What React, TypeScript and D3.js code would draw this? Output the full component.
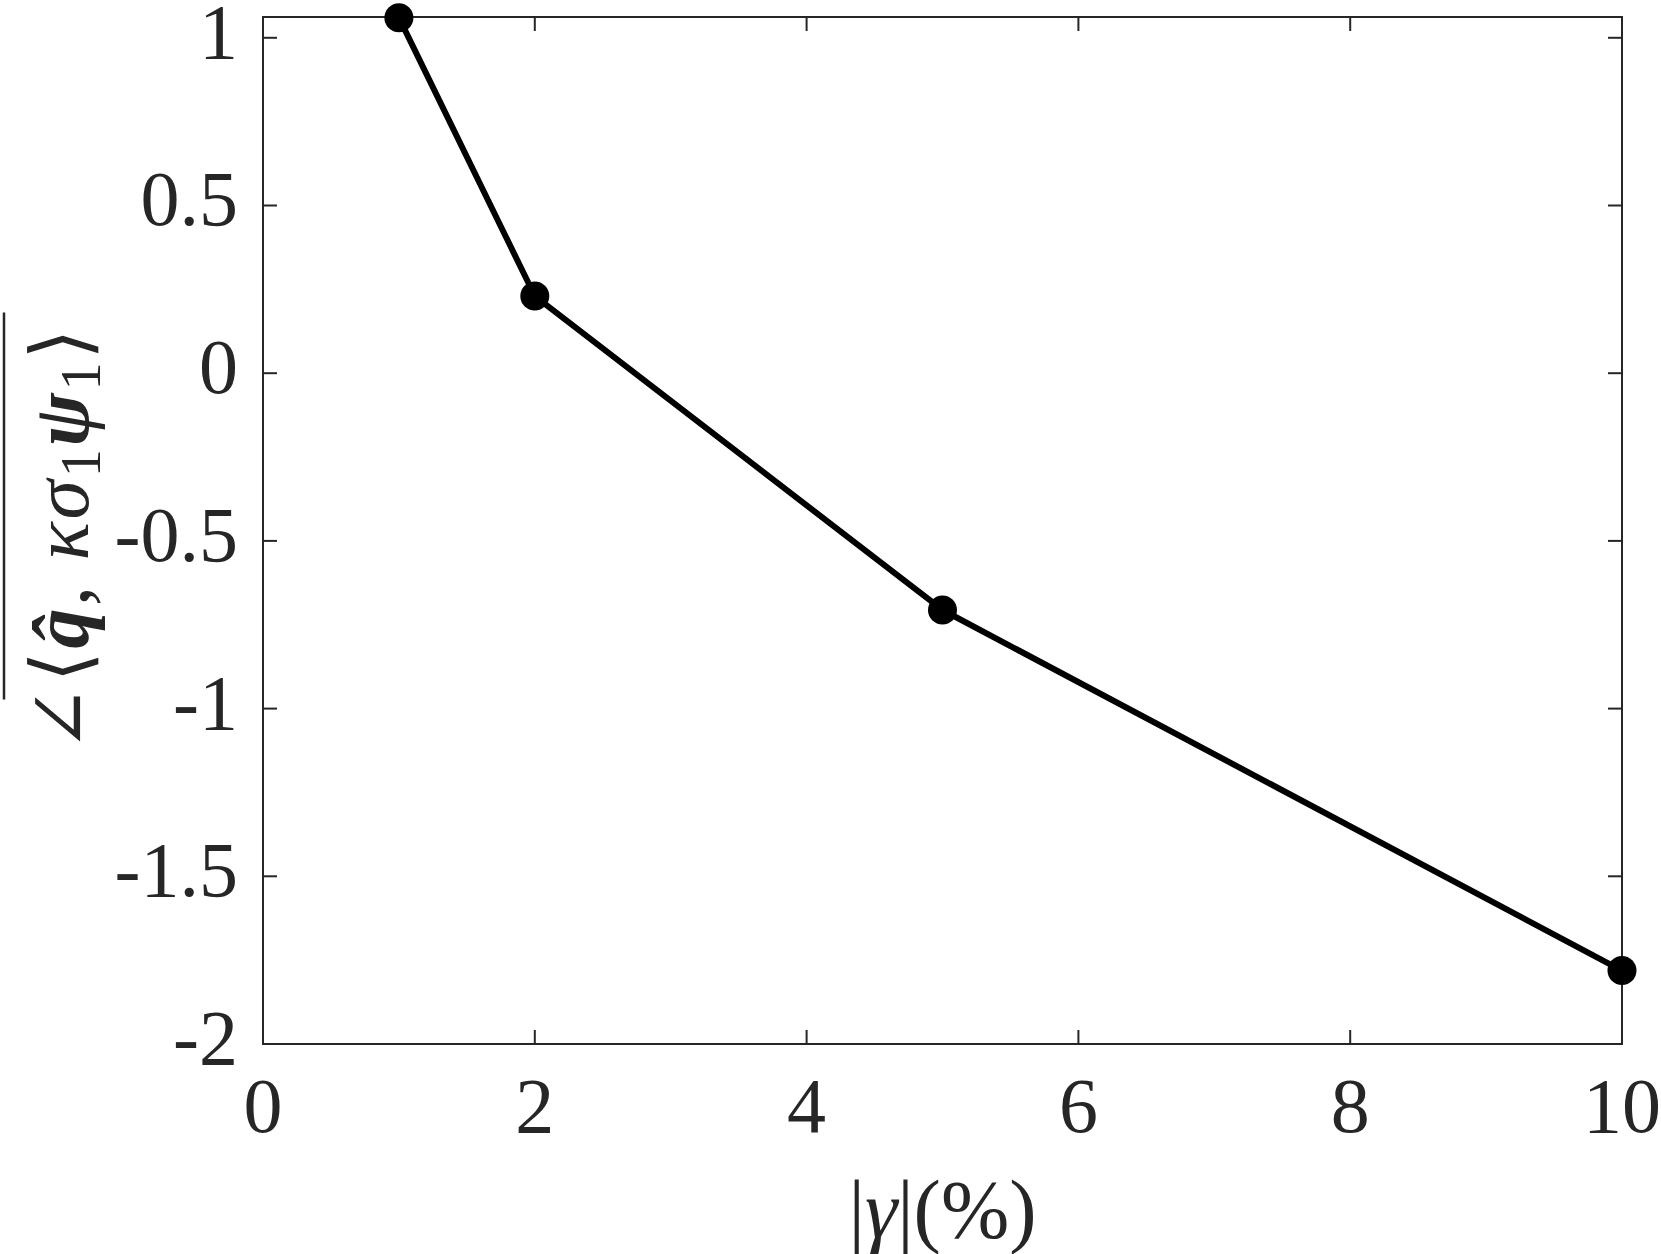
import React from 'react';
import * as d3 from 'd3';

const gammaPct = [1, 2, 5, 10];
const angleVals = [1.06, 0.23, -0.706, -1.781];
const xTicks = [0, 2, 4, 6, 8, 10];
const yTicks = [-2, -1.5, -1, -0.5, 0, 0.5, 1];
const yTickLabels = ['-2', '-1.5', '-1', '-0.5', '0', '0.5', '1'];
const xLabels = ['0', '2', '4', '6', '8', '10'];
const yMax = 1.062;

const W = 1661;
const H = 1254;
const left = 263, right = 1622, top = 17, bottom = 1044;
const axisColor = '#262626';
const font = "'Liberation Serif', 'DejaVu Serif', serif";

export default function App() {
  const x = d3.scaleLinear().domain([0, 10]).range([left, right]);
  const y = d3.scaleLinear().domain([-2, yMax]).range([bottom, top]);
  const pts = gammaPct.map((g, i) => [g, angleVals[i]] as [number, number]);
  const line = d3.line<[number, number]>().x(d => x(d[0])).y(d => y(d[1]));
  const tickLen = 14;

  return (
    <svg width={W} height={H} style={{ position: 'absolute', left: 0, top: 0, background: '#fff' }}>
      <rect x={left} y={top} width={right - left} height={bottom - top} fill="none" stroke={axisColor} strokeWidth={2} />
      {xTicks.map((t, i) => (
        <g key={'x' + t}>
          <line x1={x(t)} x2={x(t)} y1={bottom} y2={bottom - tickLen} stroke={axisColor} strokeWidth={2} />
          <line x1={x(t)} x2={x(t)} y1={top} y2={top + tickLen} stroke={axisColor} strokeWidth={2} />
          <text x={x(t)} y={1132} textAnchor="middle" fontFamily={font} fontSize={78} fill={axisColor}>{xLabels[i]}</text>
        </g>
      ))}
      {yTicks.map((t, i) => (
        <g key={'y' + t}>
          <line x1={left} x2={left + tickLen} y1={y(t)} y2={y(t)} stroke={axisColor} strokeWidth={2} />
          <line x1={right} x2={right - tickLen} y1={y(t)} y2={y(t)} stroke={axisColor} strokeWidth={2} />
          <text x={238} y={y(t) + 20} textAnchor="end" fontFamily={font} fontSize={78} fill={axisColor}>{yTickLabels[i]}</text>
        </g>
      ))}
      <path d={line(pts) || ''} fill="none" stroke="#000" strokeWidth={6} strokeLinejoin="round" />
      {pts.map((p, i) => (
        <circle key={i} cx={x(p[0])} cy={y(p[1])} r={14.5} fill="#000" />
      ))}
      <text x={(left + right) / 2} y={1237} textAnchor="middle" fontFamily={font} fontSize={82} fill={axisColor}>
        |<tspan fontStyle="italic">γ</tspan>|(%)
      </text>
      <g transform={`translate(88, ${(top + bottom) / 2}) rotate(-90)`}>
        <text x={-155} y={0} textAnchor="end" fontFamily={font} fontSize={80} fill={axisColor}>∠</text>
        <text x={-152} y={0} textAnchor="start" textLength={354} lengthAdjust="spacing" fontFamily={font} fontSize={80} fill={axisColor}>
          ⟨<tspan fontWeight="bold" fontStyle="italic">q̂</tspan>, <tspan fontStyle="italic">κσ</tspan>
          <tspan fontSize={56} dy={12}>1</tspan>
          <tspan fontWeight="bold" fontStyle="italic" dy={-12}>ψ</tspan>
          <tspan fontSize={56} dy={12}>1</tspan>
          <tspan dy={-12}>⟩</tspan>
        </text>
        <line x1={-169} x2={218} y1={-84} y2={-84} stroke={axisColor} strokeWidth={2.5} />
      </g>
    </svg>
  );
}
